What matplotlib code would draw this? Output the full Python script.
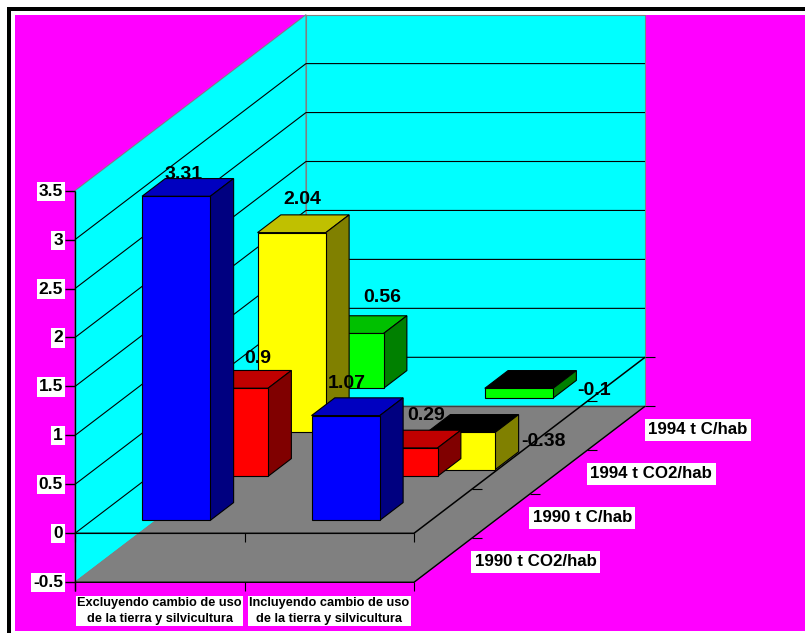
import matplotlib
matplotlib.use('Agg')
import matplotlib.pyplot as plt
from matplotlib.patches import Polygon, Rectangle

categories = ['Excluyendo cambio de uso\nde la tierra y silvicultura',
              'Incluyendo cambio de uso\nde la tierra y silvicultura']
series_names = ['1990 t CO2/hab', '1990 t C/hab', '1994 t CO2/hab', '1994 t C/hab']
co2_1990 = [3.31, 1.07]
c_1990 = [0.9, 0.29]
co2_1994 = [2.04, -0.38]
c_1994 = [0.56, -0.1]
series_values = [co2_1990, c_1990, co2_1994, c_1994]
value_ticks = [-0.5, 0, 0.5, 1, 1.5, 2, 2.5, 3, 3.5]
value_tick_labels = ['-0.5', '0', '0.5', '1', '1.5', '2', '2.5', '3', '3.5']

# front, top, side colours per series
face_colors = [('#0000ff', '#0000c0', '#000080'),
               ('#ff0000', '#c00000', '#800000'),
               ('#ffff00', '#c0c000', '#808000'),
               ('#00ff00', '#00c000', '#008000')]

# oblique projection of the 3d chart box onto figure pixels
X0, Y0 = 75, 533.3
CAT_W = 169.5
DEPTH_X, DEPTH_Y = 57.75, 44
UNIT = 97.9
LW = 0.8


def proj(cat, depth, val):
    return (X0 + cat * CAT_W + depth * DEPTH_X, Y0 - val * UNIT - depth * DEPTH_Y)


def face(ax, pts, color, z, ec='black', lw=LW):
    ax.add_patch(Polygon(pts, closed=True, facecolor=color, edgecolor=ec, linewidth=lw, zorder=z))


def line(ax, pts, color='black', lw=LW, z=3):
    ax.plot([p[0] for p in pts], [p[1] for p in pts], color=color, lw=lw, zorder=z,
            solid_capstyle='butt')


fig = plt.figure(figsize=(8.05, 6.33), dpi=100, facecolor='white')
ax = fig.add_axes([0, 0, 1, 1])
ax.set_xlim(0, 805)
ax.set_ylim(633, 0)
ax.axis('off')
plt.rcParams['font.family'] = ['Liberation Sans', 'DejaVu Sans']

ax.add_patch(Rectangle((15, 15), 790, 615.5, facecolor='#ff00ff', edgecolor='none', zorder=0))
ax.add_patch(Rectangle((7, 7), 798, 4, facecolor='black', edgecolor='none', zorder=0))
ax.add_patch(Rectangle((7, 7), 4, 626, facecolor='black', edgecolor='none', zorder=0))

v_min, v_max = value_ticks[0], value_ticks[-1]
n_cat, n_depth = len(categories), len(series_names)

# walls and floor
face(ax, [proj(0, 0, v_min), proj(0, n_depth, v_min), proj(0, n_depth, v_max), proj(0, 0, v_max)],
     '#00ffff', 1, ec='#808080')
face(ax, [proj(0, n_depth, v_min), proj(n_cat, n_depth, v_min), proj(n_cat, n_depth, v_max), proj(0, n_depth, v_max)],
     '#00ffff', 1, ec='#808080')
face(ax, [proj(0, 0, v_min), proj(n_cat, 0, v_min), proj(n_cat, n_depth, v_min), proj(0, n_depth, v_min)],
     '#808080', 2, ec='#808080')

# gridlines on both walls
for v in value_ticks[1:-1]:
    line(ax, [proj(0, 0, v), proj(0, n_depth, v), proj(n_cat, n_depth, v)])
line(ax, [proj(0, n_depth, v_min), proj(n_cat, n_depth, v_min)], color='#404040', lw=1.0)

# zero plane and floor edges
for v in [0, v_min]:
    line(ax, [proj(0, 0, v), proj(n_cat, 0, v), proj(n_cat, n_depth, v)], lw=1.1 if v == 0 else 1.0)
    for c in range(n_cat + 1):
        x, y = proj(c, 0, v)
        line(ax, [(x, y), (x, y + 9)])
    for d in range(1, n_depth + 1):
        x, y = proj(n_cat, d, v)
        line(ax, [(x, y), (x + 10, y)])

# value axis
line(ax, [proj(0, 0, v_min), (X0, Y0 - v_max * UNIT)], lw=1.0)
line(ax, [proj(0, 0, v_min), (X0, Y0 - v_min * UNIT + 9)], lw=1.0)
for v, lab in zip(value_ticks, value_tick_labels):
    x, y = proj(0, 0, v)
    line(ax, [(x - 10, y), (x, y)], lw=1.0)
    ax.text(63, y + 0.5, lab, ha='right', va='center', fontsize=12.5, fontweight='bold', zorder=8,
            bbox=dict(facecolor='white', edgecolor='none', pad=1.5))

# bars, back row first
z = 4
BAR_L, BAR_W = 0.295, 0.403
for d in range(n_depth - 1, -1, -1):
    front, top_c, side_c = face_colors[d]
    for c in range(n_cat):
        v = series_values[d][c]
        lo, hi = min(v, 0), max(v, 0)
        cl, cr = c + BAR_L, c + BAR_L + BAR_W
        dn, df = d + BAR_L, d + BAR_L + BAR_W
        top_color = top_c if v >= 0 else 'black'
        face(ax, [proj(cl, dn, hi), proj(cr, dn, hi), proj(cr, df, hi), proj(cl, df, hi)], top_color, z)
        face(ax, [proj(cr, dn, lo), proj(cr, df, lo), proj(cr, df, hi), proj(cr, dn, hi)], side_c, z)
        face(ax, [proj(cl, dn, lo), proj(cr, dn, lo), proj(cr, dn, hi), proj(cl, dn, hi)], front, z)
        z += 0.01

# data labels, placed the way the spreadsheet left them
label_offsets = {(0, 0): (-5, -12.5), (0, 1): (-11.5, -23.5),
                 (1, 0): (11, -20.5), (1, 1): (10, -23.5),
                 (2, 0): (-2, -24.5), (2, 1): (69.5, 18.5),
                 (3, 0): (20, -26.5), (3, 1): (63, 11.5)}
for d in range(n_depth):
    for c in range(n_cat):
        v = series_values[d][c]
        x, y = proj(c + 0.5, d + 0.5, max(v, 0))
        dx, dy = label_offsets[(d, c)]
        ax.text(x + dx, y + dy, str(v), ha='center', va='center', fontsize=14, fontweight='bold',
                color='black', zorder=9)

# category labels
for c, lab in enumerate(categories):
    x = proj(c + 0.5, 0, v_min)[0]
    ax.text(x, 611, lab, ha='center', va='center', fontsize=9.2, fontweight='bold', linespacing=1.45,
            zorder=8, bbox=dict(facecolor='white', edgecolor='none', pad=1))

# series labels along the depth axis
for d, name in enumerate(series_names):
    x, y = proj(n_cat, d + 0.5, v_min)
    ax.text(x + 32, y + 1.5, name, ha='left', va='center', fontsize=12.2, fontweight='bold',
            zorder=8, bbox=dict(facecolor='white', edgecolor='none', pad=2.5))

fig.savefig('out.png', dpi=100)
